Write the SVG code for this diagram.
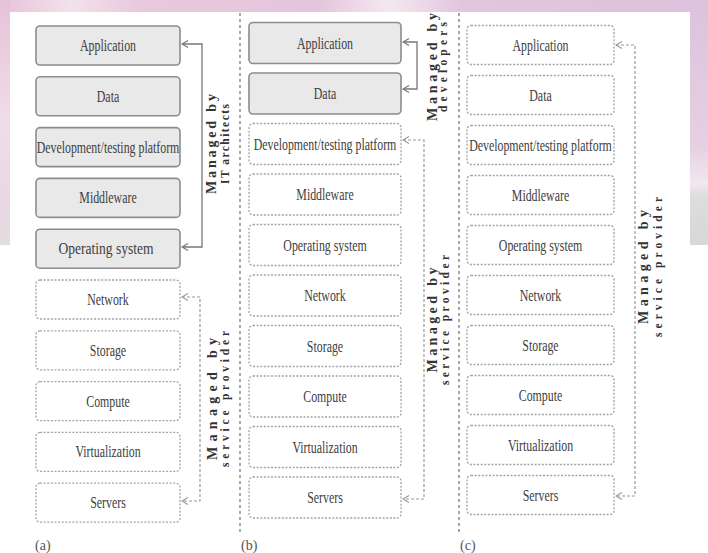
<svg xmlns="http://www.w3.org/2000/svg" width="708" height="553" viewBox="0 0 708 553">
  <defs>
    <linearGradient id="topBand" x1="0" y1="0" x2="1" y2="0">
      <stop offset="0" stop-color="#e6c2d8"/>
      <stop offset="0.1" stop-color="#f2e2ec"/>
      <stop offset="0.2" stop-color="#e8c8dc"/>
      <stop offset="0.45" stop-color="#e4c6dc"/>
      <stop offset="0.55" stop-color="#f4e8f0"/>
      <stop offset="0.65" stop-color="#e2c6de"/>
      <stop offset="1" stop-color="#dcc2dc"/>
    </linearGradient>
    <linearGradient id="leftBand" x1="0" y1="0" x2="0" y2="1">
      <stop offset="0" stop-color="#e6c2d8"/>
      <stop offset="0.5" stop-color="#f0dce8"/>
      <stop offset="0.8" stop-color="#ecd6e4"/>
      <stop offset="1" stop-color="#e2dde0"/>
    </linearGradient>
    <linearGradient id="rightBand" x1="0" y1="0" x2="0" y2="1">
      <stop offset="0" stop-color="#dcc2dc"/>
      <stop offset="0.6" stop-color="#e6d0e2"/>
      <stop offset="0.75" stop-color="#f2e8ee"/>
      <stop offset="0.8" stop-color="#dedcdd"/>
      <stop offset="1" stop-color="#d8d8d8"/>
    </linearGradient>
    <marker id="arrowSolid" viewBox="0 0 8 8" refX="7" refY="4" markerWidth="8" markerHeight="8" markerUnits="userSpaceOnUse" orient="auto-start-reverse">
      <path d="M1,0.5 L7,4 L1,7.5" fill="none" stroke="#777" stroke-width="1.2"/>
    </marker>
    <marker id="arrowDash" viewBox="0 0 8 8" refX="7" refY="4" markerWidth="8" markerHeight="8" markerUnits="userSpaceOnUse" orient="auto-start-reverse">
      <path d="M1,0.5 L7,4 L1,7.5" fill="none" stroke="#999" stroke-width="1.1"/>
    </marker>
  </defs>
  <style>
    .solid { fill: #e9e9e9; stroke: #8c8c8c; stroke-width: 1.6; }
    .dash { fill: #ffffff; stroke: #a2a2a2; stroke-width: 1.3; stroke-dasharray: 2 1.6; }
    .lbl { font-family: "Liberation Serif", "Times New Roman", serif; font-size: 16.5px; fill: #404040; text-anchor: middle; }
    .sep { stroke: #8a8a8a; stroke-width: 1.5; stroke-dasharray: 3 3; fill: none; }
    .conS { fill: none; stroke: #777; stroke-width: 1.3; marker-start: url(#arrowSolid); marker-end: url(#arrowSolid); }
    .conD { fill: none; stroke: #999; stroke-width: 1.2; stroke-dasharray: 3 2; marker-start: url(#arrowDash); marker-end: url(#arrowDash); }
    .note1 { font-family: "Liberation Serif", "Times New Roman", serif; font-size: 14px; font-weight: bold; fill: #333; text-anchor: middle; }
    .note2 { font-family: "Liberation Serif", "Times New Roman", serif; font-size: 11.5px; font-weight: bold; fill: #333; text-anchor: middle; }
    .tag { font-family: "Liberation Serif", "Times New Roman", serif; font-size: 14px; fill: #555; }
  </style>

  <!-- backdrop -->
  <rect x="0" y="0" width="708" height="553" fill="#ffffff"/>
  <rect x="0" y="0" width="708" height="12" fill="url(#topBand)"/>
  <rect x="0" y="0" width="10" height="245" fill="url(#leftBand)"/>
  <rect x="690" y="0" width="18" height="245" fill="url(#rightBand)"/>

  <!-- panel separators -->
  <g id="separators">
    <line class="sep" x1="240" y1="13" x2="240" y2="532"/>
    <line class="sep" x1="459" y1="13" x2="459" y2="532"/>
  </g>

  <!-- panel (a) -->
  <g id="a-application"><rect class="solid" x="36" y="26" width="144" height="39" rx="4"/><text class="lbl" transform="translate(108,51) scale(0.72,1)">Application</text></g>
  <g id="a-data"><rect class="solid" x="36" y="76.8" width="144" height="39" rx="4"/><text class="lbl" transform="translate(108,101.8) scale(0.72,1)">Data</text></g>
  <g id="a-platform"><rect class="solid" x="36" y="127.6" width="144" height="39" rx="4"/><text class="lbl" transform="translate(108,152.6) scale(0.72,1)">Development/testing platform</text></g>
  <g id="a-middleware"><rect class="solid" x="36" y="178.4" width="144" height="39" rx="4"/><text class="lbl" transform="translate(108,203.4) scale(0.72,1)">Middleware</text></g>
  <g id="a-os"><rect class="solid" x="36" y="229.2" width="144" height="39" rx="4"/><text class="lbl" transform="translate(106,254.2) scale(0.82,1)">Operating system</text></g>
  <g id="a-network"><rect class="dash" x="36" y="280" width="144" height="39" rx="4"/><text class="lbl" transform="translate(108,305) scale(0.72,1)">Network</text></g>
  <g id="a-storage"><rect class="dash" x="36" y="330.8" width="144" height="39" rx="4"/><text class="lbl" transform="translate(108,355.8) scale(0.72,1)">Storage</text></g>
  <g id="a-compute"><rect class="dash" x="36" y="381.6" width="144" height="39" rx="4"/><text class="lbl" transform="translate(108,406.6) scale(0.72,1)">Compute</text></g>
  <g id="a-virtualization"><rect class="dash" x="36" y="432.4" width="144" height="39" rx="4"/><text class="lbl" transform="translate(108,457.4) scale(0.72,1)">Virtualization</text></g>
  <g id="a-servers"><rect class="dash" x="36" y="483.2" width="144" height="39" rx="4"/><text class="lbl" transform="translate(108,508.2) scale(0.72,1)">Servers</text></g>

  <!-- panel (b) -->
  <g id="b-application"><rect class="solid" x="249" y="22.5" width="152" height="41" rx="4"/><text class="lbl" transform="translate(325,48.5) scale(0.72,1)">Application</text></g>
  <g id="b-data"><rect class="solid" x="249" y="73" width="152" height="41" rx="4"/><text class="lbl" transform="translate(325,99) scale(0.72,1)">Data</text></g>
  <g id="b-platform"><rect class="dash" x="249" y="123.5" width="152" height="41" rx="4"/><text class="lbl" transform="translate(325,149.5) scale(0.72,1)">Development/testing platform</text></g>
  <g id="b-middleware"><rect class="dash" x="249" y="174" width="152" height="41" rx="4"/><text class="lbl" transform="translate(325,200) scale(0.72,1)">Middleware</text></g>
  <g id="b-os"><rect class="dash" x="249" y="224.5" width="152" height="41" rx="4"/><text class="lbl" transform="translate(325,250.5) scale(0.72,1)">Operating system</text></g>
  <g id="b-network"><rect class="dash" x="249" y="275" width="152" height="41" rx="4"/><text class="lbl" transform="translate(325,301) scale(0.72,1)">Network</text></g>
  <g id="b-storage"><rect class="dash" x="249" y="325.5" width="152" height="41" rx="4"/><text class="lbl" transform="translate(325,351.5) scale(0.72,1)">Storage</text></g>
  <g id="b-compute"><rect class="dash" x="249" y="376" width="152" height="41" rx="4"/><text class="lbl" transform="translate(325,402) scale(0.72,1)">Compute</text></g>
  <g id="b-virtualization"><rect class="dash" x="249" y="426.5" width="152" height="41" rx="4"/><text class="lbl" transform="translate(325,452.5) scale(0.72,1)">Virtualization</text></g>
  <g id="b-servers"><rect class="dash" x="249" y="477" width="152" height="41" rx="4"/><text class="lbl" transform="translate(325,503) scale(0.72,1)">Servers</text></g>

  <!-- panel (c) -->
  <g id="c-application"><rect class="dash" x="467" y="25.5" width="147" height="39" rx="4"/><text class="lbl" transform="translate(540.5,50.5) scale(0.72,1)">Application</text></g>
  <g id="c-data"><rect class="dash" x="467" y="75.5" width="147" height="39" rx="4"/><text class="lbl" transform="translate(540.5,100.5) scale(0.72,1)">Data</text></g>
  <g id="c-platform"><rect class="dash" x="467" y="125.5" width="147" height="39" rx="4"/><text class="lbl" transform="translate(540.5,150.5) scale(0.72,1)">Development/testing platform</text></g>
  <g id="c-middleware"><rect class="dash" x="467" y="175.5" width="147" height="39" rx="4"/><text class="lbl" transform="translate(540.5,200.5) scale(0.72,1)">Middleware</text></g>
  <g id="c-os"><rect class="dash" x="467" y="225.5" width="147" height="39" rx="4"/><text class="lbl" transform="translate(540.5,250.5) scale(0.72,1)">Operating system</text></g>
  <g id="c-network"><rect class="dash" x="467" y="275.5" width="147" height="39" rx="4"/><text class="lbl" transform="translate(540.5,300.5) scale(0.72,1)">Network</text></g>
  <g id="c-storage"><rect class="dash" x="467" y="325.5" width="147" height="39" rx="4"/><text class="lbl" transform="translate(540.5,350.5) scale(0.72,1)">Storage</text></g>
  <g id="c-compute"><rect class="dash" x="467" y="375.5" width="147" height="39" rx="4"/><text class="lbl" transform="translate(540.5,400.5) scale(0.72,1)">Compute</text></g>
  <g id="c-virtualization"><rect class="dash" x="467" y="425.5" width="147" height="39" rx="4"/><text class="lbl" transform="translate(540.5,450.5) scale(0.72,1)">Virtualization</text></g>
  <g id="c-servers"><rect class="dash" x="467" y="475.5" width="147" height="39" rx="4"/><text class="lbl" transform="translate(540.5,500.5) scale(0.72,1)">Servers</text></g>

  <!-- brackets showing who manages which layers -->
  <g id="connectors">
    <path class="conS" d="M182,44 H202 V247 H182"/>
    <path class="conD" d="M182,297 H200 V501 H182"/>
    <path class="conS" d="M403,42 H417 V89 H403"/>
    <path class="conD" d="M403,140 H424 V499 H403"/>
    <path class="conD" d="M616,45 H635 V496 H616"/>
  </g>

  <!-- bracket captions -->
  <g id="note-a-top" transform="translate(216,144) rotate(-90)">
    <text class="note1" x="0" y="0" textLength="100" lengthAdjust="spacing">Managed by</text>
    <text class="note2" x="0" y="13" textLength="80" lengthAdjust="spacing">IT architects</text>
  </g>
  <g id="note-a-bottom" transform="translate(217,399) rotate(-90)">
    <text class="note1" x="0" y="0" textLength="122" lengthAdjust="spacing">Managed by</text>
    <text class="note2" x="0" y="12" textLength="136" lengthAdjust="spacing">service provider</text>
  </g>
  <g id="note-b-top" transform="translate(437,67) rotate(-90)">
    <text class="note1" x="0" y="0" textLength="108" lengthAdjust="spacing">Managed by</text>
    <text class="note2" x="0" y="10" textLength="90" lengthAdjust="spacing">developers</text>
  </g>
  <g id="note-b-bottom" transform="translate(437,320) rotate(-90)">
    <text class="note1" x="0" y="0" textLength="105" lengthAdjust="spacing">Managed by</text>
    <text class="note2" x="0" y="12" textLength="130" lengthAdjust="spacing">service provider</text>
  </g>
  <g id="note-c" transform="translate(648,267) rotate(-90)">
    <text class="note1" x="0" y="0" textLength="114" lengthAdjust="spacing">Managed by</text>
    <text class="note2" x="0" y="14" textLength="140" lengthAdjust="spacing">service provider</text>
  </g>

  <!-- panel tags -->
  <g id="tags">
    <text class="tag" x="35" y="550">(a)</text>
    <text class="tag" x="241" y="550">(b)</text>
    <text class="tag" x="460" y="550">(c)</text>
  </g>
</svg>
